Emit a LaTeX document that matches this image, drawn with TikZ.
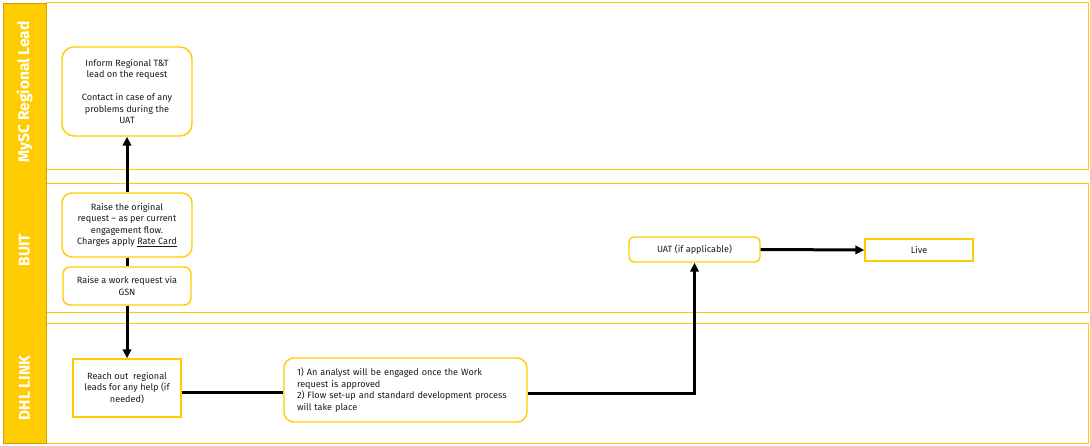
\documentclass[tikz,border=0pt]{standalone}
\usepackage{fontspec}
\setmainfont{Fira Sans}
\usepackage{xcolor}
\usetikzlibrary{arrows.meta,calc}
\definecolor{LaneYellow}{HTML}{FFCC00}
\definecolor{LaneGold}{HTML}{C9A000}
\definecolor{LaneInk}{HTML}{1A1A1A}
\begin{document}
\begin{tikzpicture}[x=1pt,y=-1pt,
    lane/.style={draw=LaneYellow,line width=1pt},
    lanelabel/.style={rotate=90,text=white,font=\bfseries\fontsize{15.5}{17}\selectfont},
    task/.style={draw=LaneYellow,line width=1.4pt,fill=white,align=center,
      inner sep=2pt,text=LaneInk,font=\fontsize{9.1}{11.5}\selectfont},
    roundtask/.style={task,rounded corners=#1},
    flow/.style={-{Triangle[length=9pt,width=8.5pt]},line width=3pt,black},
    link/.style={line width=3pt,black}]
  \useasboundingbox (0,0) rectangle (1090,446);

  % swimlanes
  \draw[lane] (46,3) rectangle (1088,170);
  \draw[lane] (46,184) rectangle (1088,313);
  \draw[lane] (46,324) rectangle (1088,443);
  \draw[fill=LaneYellow,draw=LaneGold,line width=0.8pt] (3,3) rectangle (46,443);
  \node[lanelabel] (laneMysc) at (24.5,92) {MySC Regional Lead};
  \node[lanelabel] (laneBuit) at (24.5,250) {BUIT};
  \node[lanelabel] (laneDhl) at (24.5,388) {DHL LINK};

  % tasks
  \node[roundtask=12pt,minimum width=130,minimum height=89] (inform) at (127,91.5)
    {Inform Regional T\&T\\lead on the request\\[11.5pt]Contact in case of any\\problems during the\\UAT};
  \node[roundtask=10pt,minimum width=130,minimum height=64] (original) at (127,225)
    {Raise the original\\request -- as per current\\engagement flow.\\Charges apply \underline{Rate Card}};
  \node[roundtask=7pt,minimum width=128,minimum height=38] (gsn) at (127,286)
    {Raise a work request via\\GSN};
  \node[task,minimum width=108,minimum height=58] (reach) at (127,388)
    {Reach out\ \ regional\\leads for any help (if\\needed)};
  \node[roundtask=10pt,minimum width=243,minimum height=64,align=left,
    text width=217] (analyst) at (405.5,390)
    {1) An analyst will be engaged once the Work\\request is approved\\2) Flow set-up and standard development process\\will take place};
  \node[roundtask=5pt,minimum width=131,minimum height=25] (uat) at (694.5,249.5)
    {UAT (if applicable)};
  \node[task,minimum width=108,minimum height=22] (live) at (919,250) {Live};

  % connectors
  \draw[flow] (original.north) -- (inform.south);
  \draw[link] (original.south) -- (gsn.north);
  \draw[flow] (gsn.south) -- (reach.north);
  \draw[link] ([yshift=-4pt]reach.east) -- ([yshift=-4pt]reach.east -| analyst.west);
  \draw[flow] ([yshift=-3pt]analyst.east) -| (uat.south);
  \draw[flow] (uat.east) -- (live.west);
\end{tikzpicture}
\end{document}
